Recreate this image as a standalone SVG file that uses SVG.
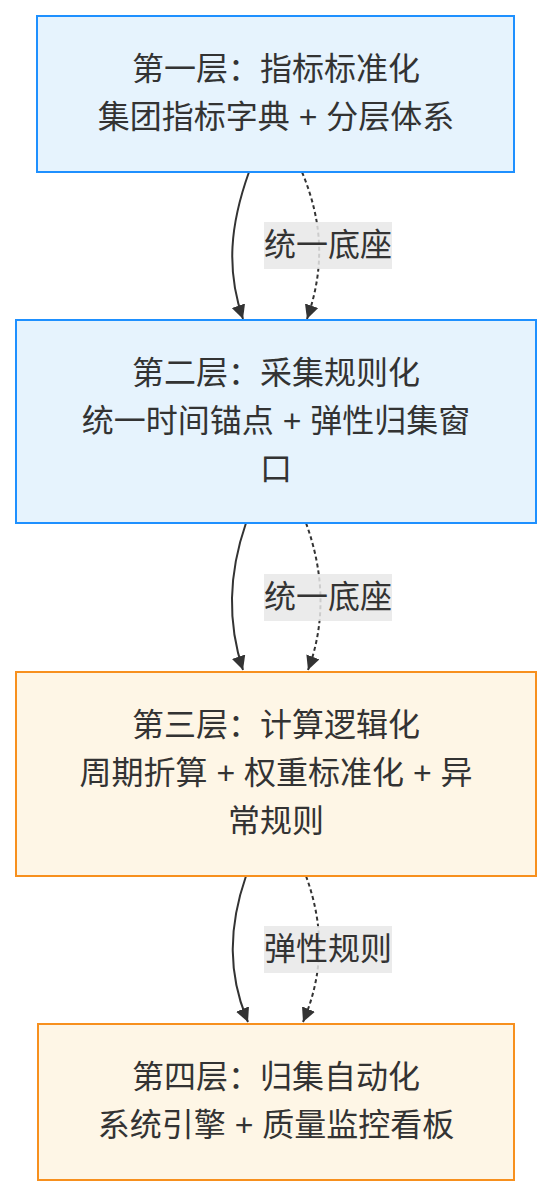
<svg xmlns="http://www.w3.org/2000/svg" width="552" height="1196" viewBox="0 0 552 1196">
<style>
  .blue { fill: #e6f3fd; stroke: #1e90ff; stroke-width: 2; }
  .orange { fill: #fef6e6; stroke: #f7901e; stroke-width: 2; }
  .t { font-family: "Liberation Sans", "Noto Sans CJK SC", sans-serif; font-size: 32px; fill: #333333; text-anchor: middle; dominant-baseline: central; }
  .e { fill: none; stroke: #333333; stroke-width: 2; }
  .d { stroke-dasharray: 4 3; }
  .lbg { fill: #e8e8e8; fill-opacity: 0.85; }
</style>
<defs>
  <marker id="arr" viewBox="0 0 10 10" refX="10" refY="5" markerUnits="userSpaceOnUse" markerWidth="14" markerHeight="14" orient="auto">
    <path d="M0,0 L10,5 L0,10 z" fill="#333333"/>
  </marker>
</defs>
<rect width="552" height="1196" fill="#ffffff"/>
<g id="connectors">
  <path class="e" d="M249,172 C230,225 226,270 243,319" marker-end="url(#arr)"/>
  <path class="e d" d="M302,172 C324,225 324,270 307,319" marker-end="url(#arr)"/>
  <path class="e" d="M246,523 C228,575 228,625 243,670" marker-end="url(#arr)"/>
  <path class="e d" d="M306,523 C325,575 325,625 308,670" marker-end="url(#arr)"/>
  <path class="e" d="M246,876 C228,928 228,975 248,1022" marker-end="url(#arr)"/>
  <path class="e d" d="M306,876 C325,928 323,975 303,1022" marker-end="url(#arr)"/>
</g>
<g id="label1">
  <rect class="lbg" x="264" y="222" width="128" height="47"/>
  <text class="t" x="328" y="244.5">统一底座</text>
</g>
<g id="label2">
  <rect class="lbg" x="264" y="574" width="128" height="47"/>
  <text class="t" x="328" y="596.5">统一底座</text>
</g>
<g id="label3">
  <rect class="lbg" x="264" y="926" width="128" height="47"/>
  <text class="t" x="328" y="948.5">弹性规则</text>
</g>
<g id="node1">
  <rect class="blue" x="37" y="16" width="477" height="156"/>
  <text class="t" x="276" y="69">第一层：指标标准化</text>
  <text class="t" x="276" y="117">集团指标字典 + 分层体系</text>
</g>
<g id="node2">
  <rect class="blue" x="16" y="320" width="520" height="203"/>
  <text class="t" x="276" y="372.5">第二层：采集规则化</text>
  <text class="t" x="276" y="420.5">统一时间锚点 + 弹性归集窗</text>
  <text class="t" x="276" y="468.5">口</text>
</g>
<g id="node3">
  <rect class="orange" x="16" y="672" width="520" height="204"/>
  <text class="t" x="276" y="725">第三层：计算逻辑化</text>
  <text class="t" x="276" y="773">周期折算 + 权重标准化 + 异</text>
  <text class="t" x="276" y="821">常规则</text>
</g>
<g id="node4">
  <rect class="orange" x="38" y="1024" width="476" height="156"/>
  <text class="t" x="276" y="1077">第四层：归集自动化</text>
  <text class="t" x="276" y="1125">系统引擎 + 质量监控看板</text>
</g>
</svg>
